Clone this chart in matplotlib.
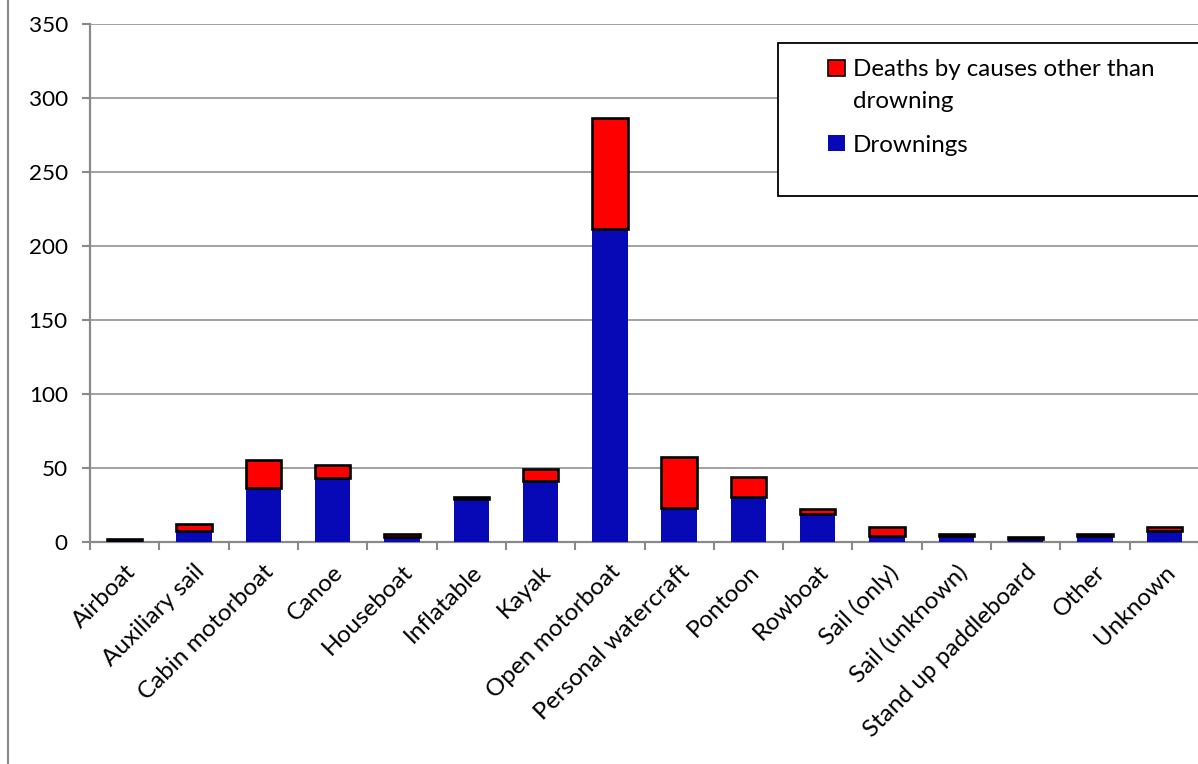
import matplotlib.pyplot as plt
import numpy as np
from matplotlib.patches import Rectangle
from matplotlib.lines import Line2D

plt.rcParams['font.family'] = ['Lato', 'DejaVu Sans']

# data
categories = ['Airboat', 'Auxiliary sail', 'Cabin motorboat', 'Canoe', 'Houseboat',
              'Inflatable', 'Kayak', 'Open motorboat', 'Personal watercraft', 'Pontoon',
              'Rowboat', 'Sail (only)', 'Sail (unknown)', 'Stand up paddleboard',
              'Other', 'Unknown']
drownings = [1, 7, 36, 43, 3, 29, 41, 211, 23, 30, 19, 4, 4, 2, 4, 7]
other_deaths = [1, 5, 19, 9, 2, 1, 8, 75, 34, 14, 3, 6, 1, 1, 1, 3]
legend_labels = ['Deaths by causes other than\ndrowning', 'Drownings']

blue = '#0709B7'
red = '#FF0000'
grey = '#898989'

W, H = 1198, 764
fig = plt.figure(figsize=(W / 100, H / 100), dpi=100)
ax = fig.add_axes([90 / W, 1 - 541.7 / H, 1109 / W, (541.7 - 23.7) / H])

x = np.arange(len(categories))
ax.bar(x, drownings, width=0.51, color=blue, zorder=3)
ax.bar(x, other_deaths, width=0.51, bottom=drownings, color=red,
       edgecolor='black', linewidth=1.9, zorder=3)

ax.set_xlim(-0.5, len(categories) - 0.5)
ax.set_ylim(0, 350)
ax.set_yticks(range(0, 351, 50))
ax.yaxis.grid(True, color=grey, linewidth=1.1, zorder=0)

ax.set_xticks(x)
ax.set_xticklabels(categories, rotation=45, ha='right', rotation_mode='anchor',
                   fontsize=17.5)
ax.set_xticks(np.arange(-0.5, len(categories), 1), minor=True)
ax.tick_params(axis='x', which='major', length=0, pad=14)
ax.tick_params(axis='x', which='minor', length=6, width=1.5, color=grey)
ax.tick_params(axis='y', length=6, width=1.5, color=grey, pad=10, labelsize=16.2)

for s in ['top', 'right']:
    ax.spines[s].set_visible(False)
for s in ['left', 'bottom']:
    ax.spines[s].set_color(grey)
    ax.spines[s].set_linewidth(1.6)

# outer chart border on the left
fig.add_artist(Line2D([8 / W, 8 / W], [0, 1], color=grey, linewidth=1.5))

# legend box, drawn by hand so the red key sits on the first text line
def fx(px):
    return px / W


def fy(py):
    return 1 - py / H


fig.add_artist(Rectangle((fx(778), fy(196)), fx(430), 153 / H, transform=fig.transFigure,
                         facecolor='white', edgecolor='black', linewidth=1.3, zorder=5))
fig.add_artist(Rectangle((fx(828), fy(76)), fx(17), 16 / H, transform=fig.transFigure,
                         facecolor=red, edgecolor='black', linewidth=1.2, zorder=6))
fig.add_artist(Rectangle((fx(828), fy(151)), fx(17), 16 / H, transform=fig.transFigure,
                         facecolor=blue, edgecolor='none', zorder=6))
fig.text(fx(853), fy(75.7), legend_labels[0].split('\n')[0], fontsize=17.4,
         va='baseline', zorder=7)
fig.text(fx(853), fy(107.7), legend_labels[0].split('\n')[1], fontsize=17.4,
         va='baseline', zorder=7)
fig.text(fx(853), fy(151.7), legend_labels[1], fontsize=17.4, va='baseline', zorder=7)

fig.savefig('out.png', dpi=100)
